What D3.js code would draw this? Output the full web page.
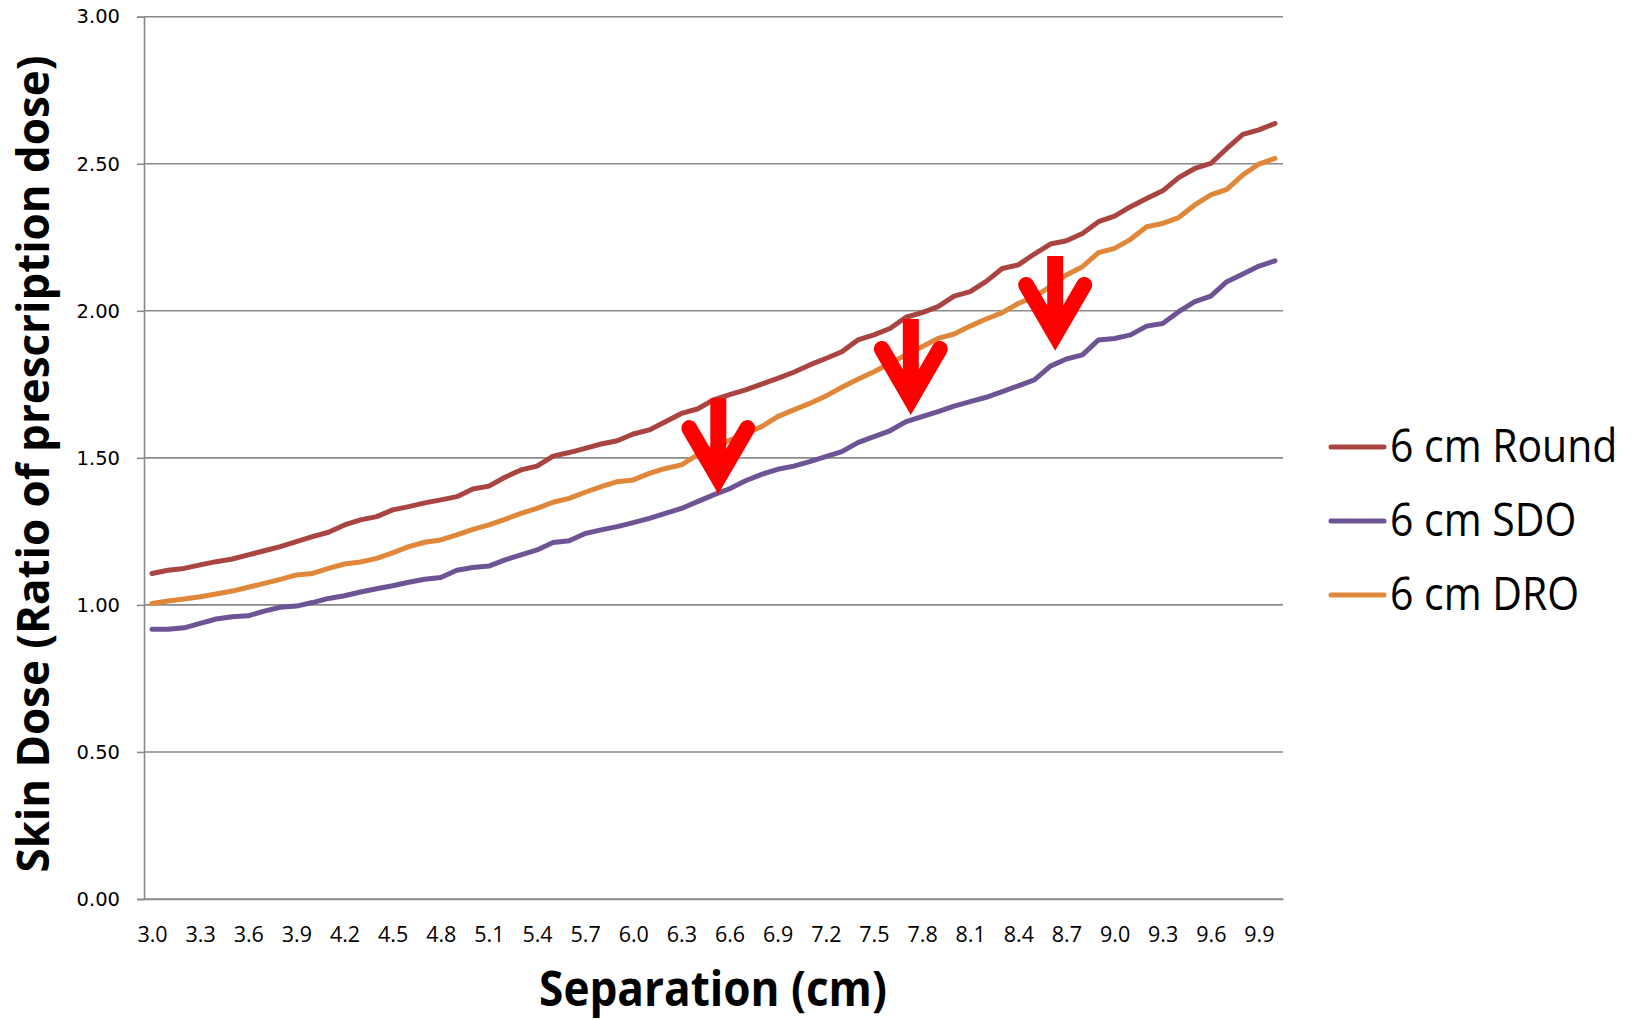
<!DOCTYPE html>
<html>
<head>
<meta charset="utf-8">
<script src="https://cdn.jsdelivr.net/npm/d3@7"></script>
<style>
  html, body { margin: 0; padding: 0; background: #fff; }
  svg { display: block; }
  text { font-family: "Open Sans", sans-serif; fill: #000; }
</style>
</head>
<body>
<div id="vis"></div>
<script>
// separation (cm), one category every 0.1 cm
const separation = [
  3.0, 3.1, 3.2, 3.3, 3.4, 3.5, 3.6, 3.7, 3.8, 3.9,
  4.0, 4.1, 4.2, 4.3, 4.4, 4.5, 4.6, 4.7, 4.8, 4.9,
  5.0, 5.1, 5.2, 5.3, 5.4, 5.5, 5.6, 5.7, 5.8, 5.9,
  6.0, 6.1, 6.2, 6.3, 6.4, 6.5, 6.6, 6.7, 6.8, 6.9,
  7.0, 7.1, 7.2, 7.3, 7.4, 7.5, 7.6, 7.7, 7.8, 7.9,
  8.0, 8.1, 8.2, 8.3, 8.4, 8.5, 8.6, 8.7, 8.8, 8.9,
  9.0, 9.1, 9.2, 9.3, 9.4, 9.5, 9.6, 9.7, 9.8, 9.9,
  10.0
];

const round6 = [
  1.107, 1.118, 1.124, 1.136, 1.147, 1.156, 1.170, 1.184, 1.198, 1.215,
  1.232, 1.247, 1.272, 1.289, 1.300, 1.323, 1.334, 1.347, 1.357, 1.368,
  1.394, 1.404, 1.434, 1.459, 1.472, 1.506, 1.518, 1.532, 1.547, 1.558,
  1.581, 1.595, 1.623, 1.651, 1.666, 1.697, 1.715, 1.731, 1.751, 1.770,
  1.791, 1.816, 1.838, 1.861, 1.901, 1.918, 1.940, 1.978, 1.994, 2.014,
  2.050, 2.065, 2.100, 2.144, 2.156, 2.193, 2.227, 2.238, 2.263, 2.303,
  2.322, 2.354, 2.382, 2.408, 2.453, 2.484, 2.501, 2.552, 2.600, 2.615,
  2.637
];

const sdo6 = [
  0.917, 0.917, 0.922, 0.937, 0.952, 0.960, 0.963, 0.979, 0.992, 0.996,
  1.008, 1.022, 1.031, 1.044, 1.055, 1.065, 1.077, 1.087, 1.093, 1.118,
  1.127, 1.132, 1.153, 1.170, 1.187, 1.212, 1.218, 1.243, 1.255, 1.266,
  1.280, 1.294, 1.311, 1.328, 1.351, 1.374, 1.395, 1.422, 1.444, 1.461,
  1.472, 1.487, 1.504, 1.521, 1.552, 1.572, 1.592, 1.623, 1.640, 1.657,
  1.676, 1.691, 1.706, 1.725, 1.745, 1.765, 1.812, 1.836, 1.850, 1.901,
  1.906, 1.918, 1.948, 1.957, 1.997, 2.031, 2.050, 2.099, 2.125, 2.152,
  2.170
];

const dro6 = [
  1.005, 1.013, 1.020, 1.028, 1.037, 1.047, 1.060, 1.073, 1.087, 1.102,
  1.107, 1.124, 1.139, 1.146, 1.158, 1.177, 1.198, 1.213, 1.221, 1.238,
  1.257, 1.272, 1.291, 1.311, 1.328, 1.349, 1.362, 1.383, 1.402, 1.419,
  1.425, 1.447, 1.464, 1.476, 1.510, 1.535, 1.560, 1.583, 1.606, 1.640,
  1.663, 1.685, 1.710, 1.740, 1.767, 1.793, 1.821, 1.850, 1.878, 1.906,
  1.921, 1.948, 1.972, 1.994, 2.025, 2.048, 2.082, 2.122, 2.150, 2.198,
  2.212, 2.243, 2.286, 2.297, 2.317, 2.360, 2.394, 2.413, 2.462, 2.499,
  2.518
];

const seriesNames = ["6 cm Round", "6 cm SDO", "6 cm DRO"];
const seriesColors = ["#a94441", "#6f5495", "#e0873a"];

const xTickLabels = ["3.0","3.3","3.6","3.9","4.2","4.5","4.8","5.1","5.4","5.7","6.0","6.3",
                     "6.6","6.9","7.2","7.5","7.8","8.1","8.4","8.7","9.0","9.3","9.6","9.9"];
const yTicks = [0, 0.5, 1, 1.5, 2, 2.5, 3];

// red arrows drawn on top (x in cm, top/tip in dose units)
const arrowX = [6.53, 7.73, 8.63];
const arrowTop = [1.703, 1.972, 2.186];
const arrowTip = [1.380, 1.649, 1.867];

const W = 1641, H = 1020;
const mLeft = 144, mRight = 1283, mTop = 16.7, mBottom = 899;

const svg = d3.select("#vis").append("svg")
  .attr("width", W)
  .attr("height", H);

// category axis: each category 0.1 cm wide, points at band centres
const x = d3.scaleLinear().domain([2.95, 10.05]).range([mLeft, mRight]);
const y = d3.scaleLinear().domain([0, 3]).range([mBottom, mTop]);

// squeeze text horizontally (the original fonts are narrow)
function condense(sel, k) {
  sel.each(function() {
    const w = this.getComputedTextLength();
    d3.select(this).attr("textLength", w * k).attr("lengthAdjust", "spacingAndGlyphs");
  });
}

// gridlines
svg.append("g")
  .selectAll("line")
  .data(yTicks)
  .join("line")
  .attr("x1", mLeft).attr("x2", mRight)
  .attr("y1", d => y(d)).attr("y2", d => y(d))
  .attr("stroke", "#8a8a8a")
  .attr("stroke-width", 1.6);

// y axis
const yAxis = svg.append("g")
  .attr("transform", `translate(${mLeft},0)`)
  .call(d3.axisLeft(y).tickValues(yTicks).tickSize(7).tickPadding(17).tickFormat(d3.format(".2f")));
yAxis.select(".domain").attr("stroke", "#8a8a8a").attr("stroke-width", 1.6);
yAxis.selectAll(".tick line").attr("stroke", "#8a8a8a").attr("stroke-width", 1.6);
yAxis.selectAll(".tick text")
  .style("font-family", "DejaVu Sans, sans-serif")
  .style("font-size", "19.5px")
  .attr("fill", "#000");

// x axis
const xAxis = svg.append("g")
  .attr("transform", `translate(0,${mBottom})`)
  .call(d3.axisBottom(x).tickValues(xTickLabels.map(Number)).tickSize(0).tickPadding(28)
        .tickFormat(d3.format(".1f")));
xAxis.select(".domain").attr("stroke", "#8a8a8a").attr("stroke-width", 1.6);
xAxis.selectAll(".tick text")
  .style("font-family", "Open Sans, sans-serif")
  .style("font-size", "21.5px")
  .attr("fill", "#000");

// series lines
const seriesData = [round6, sdo6, dro6];
const line = d3.line()
  .x((d, i) => x(separation[i]))
  .y(d => y(d));

svg.append("g")
  .selectAll("path")
  .data(seriesData)
  .join("path")
  .attr("d", d => line(d))
  .attr("fill", "none")
  .attr("stroke", (d, i) => seriesColors[i])
  .attr("stroke-width", 5)
  .attr("stroke-linejoin", "round")
  .attr("stroke-linecap", "round");

// arrows
const arrows = svg.append("g");
arrowX.forEach((ax, i) => {
  const cx = x(ax), yTip = y(arrowTip[i]), yTop = y(arrowTop[i]);
  const v = yTip - 15;
  arrows.append("line")
    .attr("x1", cx).attr("x2", cx)
    .attr("y1", yTop).attr("y2", v)
    .attr("stroke", "#ff0000")
    .attr("stroke-width", 16);
  arrows.append("path")
    .attr("d", `M${cx - 29},${v - 50}L${cx},${v}L${cx + 29},${v - 50}`)
    .attr("fill", "none")
    .attr("stroke", "#ff0000")
    .attr("stroke-width", 16)
    .attr("stroke-linecap", "round")
    .attr("stroke-linejoin", "miter")
    .attr("stroke-miterlimit", 10);
});

// legend
const legend = svg.append("g");
const legendRows = legend.selectAll("g")
  .data(seriesNames)
  .join("g")
  .attr("transform", (d, i) => `translate(1331,${447 + i * 74})`);
legendRows.append("line")
  .attr("x1", 0).attr("x2", 53)
  .attr("stroke", (d, i) => seriesColors[i])
  .attr("stroke-width", 5)
  .attr("stroke-linecap", "round");
legendRows.append("text")
  .attr("x", 59)
  .attr("y", 15)
  .style("font-size", "45px")
  .text(d => d)
  .call(condense, 0.91);

// axis titles
svg.append("text")
  .attr("transform", "translate(49,464) rotate(-90)")
  .attr("text-anchor", "middle")
  .style("font-size", "45px")
  .style("font-weight", "bold")
  .text("Skin Dose (Ratio of prescription dose)")
  .call(condense, 0.975);

svg.append("text")
  .attr("x", 713)
  .attr("y", 1006)
  .attr("text-anchor", "middle")
  .style("font-size", "49px")
  .style("font-weight", "bold")
  .text("Separation (cm)")
  .call(condense, 0.9);
</script>
</body>
</html>
